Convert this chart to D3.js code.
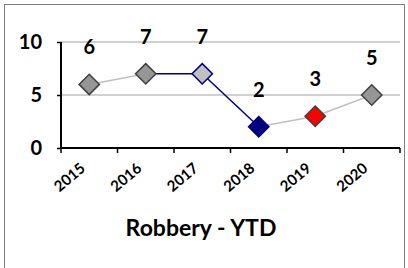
<!DOCTYPE html>
<html>
<head>
<meta charset="utf-8">
<script src="https://cdn.jsdelivr.net/npm/d3@7"></script>
<style>
body { margin: 0; background: #fff; }
text { font-family: Lato, "Open Sans", sans-serif; font-weight: bold; }
</style>
</head>
<body>
<div id="chart-area"></div>
<script>
var years = ["2015", "2016", "2017", "2018", "2019", "2020"];
var robberies = [6, 7, 7, 2, 3, 5];
var yTicks = [0, 5, 10];
var markerFill = ["#969696", "#969696", "#c0c0c0", "#000080", "#ff0000", "#969696"];
var markerStroke = ["#404040", "#404040", "#000080", "#000080", "#404040", "#404040"];
var segColor = ["#c0c0c0", "#000080", "#000080", "#c0c0c0", "#c0c0c0"];

var width = 408, height = 268;
var margin = {top: 42, right: 8, bottom: 120, left: 61};
var plotW = 400 - margin.left, plotH = 148 - margin.top;

var svg = d3.select("#chart-area").append("svg")
	.attr("width", width)
	.attr("height", height);

// outer frame
svg.append("rect")
	.attr("x", 4.5).attr("y", 4.5)
	.attr("width", 400).attr("height", 280)
	.attr("fill", "none")
	.attr("stroke", "#7f7f7f");

var group = svg.append("g")
	.attr("transform", "translate(" + margin.left + "," + margin.top + ")");

var x = d3.scaleBand().domain(years).range([0, plotW]);
var y = d3.scaleLinear().domain([0, 10]).range([plotH, 0]);

// gridlines
group.selectAll("line.grid").data([5, 10]).enter()
	.append("line")
	.attr("class", "grid")
	.attr("x1", 0).attr("x2", plotW)
	.attr("y1", (d) => y(d)).attr("y2", (d) => y(d))
	.attr("stroke", "#c0c0c0")
	.attr("stroke-width", 1.5);

var leftAxis = d3.axisLeft(y).tickValues(yTicks).tickSize(4).tickPadding(15);
var gy = group.append("g").attr("class", "left axis").call(leftAxis);
gy.select(".domain").attr("stroke", "#000").attr("stroke-width", 2).attr("d", "M0," + plotH + "V0");
gy.selectAll(".tick line").attr("stroke", "#000").attr("stroke-width", 1.5);
gy.selectAll("text").attr("font-size", "20px").attr("fill", "#000")
	.attr("font-family", "Lato, sans-serif").attr("font-weight", "bold");

var bottomAxis = d3.axisBottom(x).tickSize(0).tickFormat("");
var gx = group.append("g").attr("class", "bottom axis")
	.attr("transform", "translate(0," + plotH + ")")
	.call(bottomAxis);
gx.select(".domain").attr("stroke", "#000").attr("stroke-width", 2).attr("d", "M0,0H" + plotW);
// tick marks at band edges
group.selectAll("line.xtick").data(years.concat(["end"])).enter()
	.append("line")
	.attr("class", "xtick")
	.attr("x1", (d, i) => i * x.step()).attr("x2", (d, i) => i * x.step())
	.attr("y1", plotH).attr("y2", plotH + 5)
	.attr("stroke", "#000").attr("stroke-width", 1.5);

group.selectAll("text.xlab").data(years).enter()
	.append("text")
	.attr("class", "xlab")
	.attr("text-anchor", "end")
	.attr("font-size", "15px")
	.attr("fill", "#000")
	.attr("transform", (d) => "translate(" + (x(d) + x.bandwidth() / 2 - 3) + "," + (plotH + 22) + ") rotate(-40)")
	.text((d) => d);

// line segments
var pts = years.map((d, i) => [x(d) + x.bandwidth() / 2, y(robberies[i])]);
group.selectAll("line.seg").data(segColor).enter()
	.append("line")
	.attr("class", "seg")
	.attr("x1", (d, i) => pts[i][0]).attr("y1", (d, i) => pts[i][1])
	.attr("x2", (d, i) => pts[i + 1][0]).attr("y2", (d, i) => pts[i + 1][1])
	.attr("stroke", (d) => d)
	.attr("stroke-width", 1.5);

// markers
var diamond = d3.symbol().type(d3.symbolDiamond2).size(265);
group.selectAll("path.mark").data(robberies).enter()
	.append("path")
	.attr("class", "mark")
	.attr("d", diamond)
	.attr("transform", (d, i) => "translate(" + pts[i][0] + "," + pts[i][1] + ")")
	.attr("fill", (d, i) => markerFill[i])
	.attr("stroke", (d, i) => markerStroke[i])
	.attr("stroke-width", 1.5);

// data labels
group.selectAll("text.val").data(robberies).enter()
	.append("text")
	.attr("class", "val")
	.attr("text-anchor", "middle")
	.attr("font-size", "20px")
	.attr("fill", "#000")
	.attr("x", (d, i) => pts[i][0])
	.attr("y", (d, i) => pts[i][1] - 30)
	.text((d) => d);

svg.append("text")
	.attr("x", 201)
	.attr("y", 236)
	.attr("text-anchor", "middle")
	.attr("font-size", "23px")
	.attr("fill", "#000")
	.text("Robbery - YTD");
</script>
</body>
</html>
